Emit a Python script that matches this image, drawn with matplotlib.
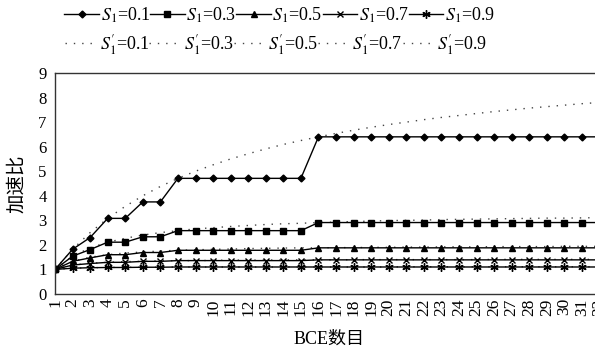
import matplotlib.pyplot as plt
from matplotlib.lines import Line2D

plt.rcParams['font.family'] = ['Liberation Serif', 'Noto Sans CJK SC']
plt.rcParams['mathtext.fontset'] = 'stix'

# BCE count 1..32
n_bce = list(range(1, 33))

# measured speedup (solid lines with markers)
s01 = [1, 1.82, 2.3, 3.08, 3.08, 3.75, 3.75, 4.71, 4.71, 4.71, 4.71, 4.71, 4.71, 4.71, 4.71,
       6.4, 6.4, 6.4, 6.4, 6.4, 6.4, 6.4, 6.4, 6.4, 6.4, 6.4, 6.4, 6.4, 6.4, 6.4, 6.4, 6.4]
s03 = [1, 1.54, 1.81, 2.11, 2.11, 2.33, 2.33, 2.58, 2.58, 2.58, 2.58, 2.58, 2.58, 2.58, 2.58,
       2.91, 2.91, 2.91, 2.91, 2.91, 2.91, 2.91, 2.91, 2.91, 2.91, 2.91, 2.91, 2.91, 2.91, 2.91, 2.91, 2.91]
s05 = [1, 1.33, 1.47, 1.6, 1.6, 1.69, 1.69, 1.78, 1.78, 1.78, 1.78, 1.78, 1.78, 1.78, 1.78,
       1.88, 1.88, 1.88, 1.88, 1.88, 1.88, 1.88, 1.88, 1.88, 1.88, 1.88, 1.88, 1.88, 1.88, 1.88, 1.88, 1.88]
s07 = [1, 1.18, 1.24, 1.29, 1.29, 1.33, 1.33, 1.36, 1.36, 1.36, 1.36, 1.36, 1.36, 1.36, 1.36,
       1.39, 1.39, 1.39, 1.39, 1.39, 1.39, 1.39, 1.39, 1.39, 1.39, 1.39, 1.39, 1.39, 1.39, 1.39, 1.39, 1.39]
s09 = [1, 1.05, 1.07, 1.08, 1.08, 1.09, 1.09, 1.10, 1.10, 1.10, 1.10, 1.10, 1.10, 1.10, 1.10,
       1.10, 1.10, 1.10, 1.10, 1.10, 1.10, 1.10, 1.10, 1.10, 1.10, 1.10, 1.10, 1.10, 1.10, 1.10, 1.10, 1.10]

# ideal speedup (dotted lines)
d01 = [1, 1.82, 2.5, 3.08, 3.57, 4.0, 4.38, 4.71, 5.0, 5.26, 5.5, 5.71, 5.91, 6.09, 6.25, 6.4,
       6.54, 6.67, 6.79, 6.9, 7.0, 7.1, 7.19, 7.27, 7.35, 7.43, 7.5, 7.57, 7.63, 7.69, 7.75, 7.8]
d03 = [1, 1.54, 1.88, 2.11, 2.27, 2.4, 2.5, 2.58, 2.65, 2.7, 2.75, 2.79, 2.83, 2.86, 2.88, 2.91,
       2.93, 2.95, 2.97, 2.99, 3.0, 3.01, 3.03, 3.04, 3.05, 3.06, 3.07, 3.08, 3.09, 3.09, 3.1, 3.11]
d05 = [1, 1.33, 1.5, 1.6, 1.67, 1.71, 1.75, 1.78, 1.8, 1.82, 1.83, 1.85, 1.86, 1.87, 1.88, 1.88,
       1.89, 1.89, 1.9, 1.9, 1.91, 1.91, 1.92, 1.92, 1.92, 1.93, 1.93, 1.93, 1.93, 1.94, 1.94, 1.94]
d07 = [1, 1.18, 1.25, 1.29, 1.32, 1.33, 1.35, 1.36, 1.36, 1.37, 1.38, 1.38, 1.38, 1.39, 1.39, 1.39,
       1.39, 1.4, 1.4, 1.4, 1.4, 1.4, 1.4, 1.4, 1.4, 1.41, 1.41, 1.41, 1.41, 1.41, 1.41, 1.41]
d09 = [1, 1.05, 1.07, 1.08, 1.09, 1.09, 1.09, 1.1, 1.1, 1.1, 1.1, 1.1, 1.1, 1.1, 1.1, 1.1,
       1.1, 1.1, 1.1, 1.1, 1.11, 1.11, 1.11, 1.11, 1.11, 1.11, 1.11, 1.11, 1.11, 1.11, 1.11, 1.11]

s_vals = ['0.1', '0.3', '0.5', '0.7', '0.9']
solid = [s01, s03, s05, s07, s09]
dotted = [d01, d03, d05, d07, d09]
markers = ['D', 's', '^', 'x', (6, 2, 0)]
msizes = [3.5, 5, 5, 5, 6]

fig = plt.figure(figsize=(5.95, 3.5), dpi=100)
ax = fig.add_axes([55 / 595, 1 - 294 / 350, 548 / 595, 221 / 350])

for d in dotted:
    ax.plot(n_bce, d, color='#444444', lw=1.0, ls=(0, (1, 5)))
for s, m, ms in zip(solid, markers, msizes):
    ax.plot(n_bce, s, color='black', lw=1.0, marker=m, ms=ms, mew=1.0)

ax.set_xlim(1, 32.2)
ax.set_ylim(0, 9)
ax.set_xticks(n_bce)
ax.set_xticklabels([str(i) for i in n_bce], rotation=90, fontsize=12.5)
ax.set_yticks(range(10))
ax.tick_params(axis='y', labelsize=12, length=0, pad=6)
ax.tick_params(axis='x', length=0, pad=3)
ax.spines['right'].set_visible(False)
for sp in ['left', 'top', 'bottom']:
    ax.spines[sp].set_color('#333333')
    ax.spines[sp].set_linewidth(1.0)
ax.set_ylabel('加速比', fontsize=14, labelpad=9)
ax.set_xlabel('BCE数目', fontsize=13, labelpad=11)

h1 = [Line2D([], [], color='black', lw=1.0, marker=m, ms=ms) for m, ms in zip(markers, msizes)]
l1 = [r'$S_1$=' + v for v in s_vals]
h2 = [Line2D([], [], color='#444444', lw=1.0, ls=(0, (1, 5))) for v in s_vals]
l2 = [r"$S_1^{\prime}$=" + v for v in s_vals]

leg1 = fig.legend(h1, l1, loc='center', bbox_to_anchor=(0.47, 0.957), ncol=5, frameon=False,
                  fontsize=13, handlelength=1.9, handletextpad=0.1, columnspacing=0.0,
                  borderpad=0, borderaxespad=0)
leg2 = fig.legend(h2, l2, loc='center', bbox_to_anchor=(0.464, 0.874), ncol=5, frameon=False,
                  fontsize=13, handlelength=1.8, handletextpad=0.1, columnspacing=0.0,
                  borderpad=0, borderaxespad=0)

fig.savefig('out.png', dpi=100)
